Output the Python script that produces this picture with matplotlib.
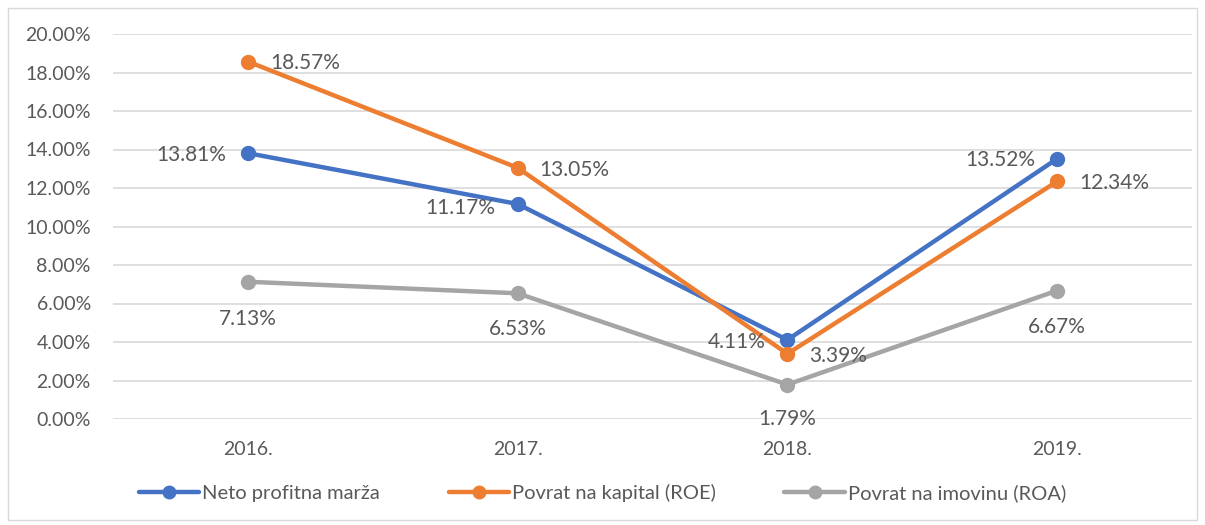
import matplotlib
matplotlib.use("Agg")
import matplotlib.pyplot as plt
from matplotlib.patches import Rectangle

years = ["2016.", "2017.", "2018.", "2019."]
neto = [13.81, 11.17, 4.11, 13.52]
roe = [18.57, 13.05, 3.39, 12.34]
roa = [7.13, 6.53, 1.79, 6.67]
series_names = ["Neto profitna marža", "Povrat na kapital (ROE)", "Povrat na imovinu (ROA)"]
yticks = [0, 2, 4, 6, 8, 10, 12, 14, 16, 18, 20]

plt.rcParams['font.family'] = ['Lato', 'DejaVu Sans']
txt = '#595959'
colors = ['#4472C4', '#ED7D31', '#A5A5A5']

fig = plt.figure(figsize=(12.05, 5.25), dpi=100)
W, H = 1205, 525
ax = fig.add_axes([113 / W, 1 - 419 / H, (1192 - 113) / W, (419 - 34) / H])

x = list(range(len(years)))
data = [neto, roe, roa]
for vals, c, name in zip(data, colors, series_names):
    ax.plot(x, vals, color=c, lw=3.2, marker='o', ms=10, label=name, solid_capstyle='round', zorder=3)

# label offsets in pixels (dx, dy, ha, va)
offs = [
    [(-22, -2, 'right', 'center'), (-22, -4, 'right', 'center'), (-22, -2, 'right', 'center'), (-22, -1, 'right', 'center')],
    [(22, -1, 'left', 'center'), (22, -2, 'left', 'center'), (22, -2, 'left', 'center'), (22, -2, 'left', 'center')],
    [(0, -37, 'center', 'center'), (0, -36, 'center', 'center'), (0, -34, 'center', 'center'), (0, -36, 'center', 'center')],
]
for vals, so in zip(data, offs):
    for i, v in enumerate(vals):
        dx, dy, ha, va = so[i]
        ax.annotate(f"{v:.2f}%", (i, v), xytext=(dx, dy), textcoords='offset pixels',
                    ha=ha, va=va, fontsize=15, color=txt, zorder=4)

ax.set_xlim(-0.5, 3.5)
ax.set_ylim(0, 20)
ax.set_yticks(yticks)
ax.set_yticklabels([f"{t:.2f}%" for t in yticks])
ax.set_xticks(x)
ax.set_xticklabels(years)
ax.tick_params(axis='both', length=0, colors=txt, labelsize=14)
ax.tick_params(axis='y', pad=16)
ax.tick_params(axis='x', pad=16)
ax.grid(axis='y', color='#D9D9D9', lw=1.2)
ax.set_axisbelow(True)
for s in ax.spines.values():
    s.set_visible(False)

leg = fig.legend(loc='center', bbox_to_anchor=(0.5, 1 - 493 / H), ncol=3, frameon=False,
                 fontsize=14.5, labelcolor=txt, handlelength=3.0, handletextpad=0.15, columnspacing=3.4,
                 markerscale=0.9)

fig.patches.append(Rectangle((8 / W, 1 - 520 / H), (1197 - 8) / W, (520 - 8) / H,
                             transform=fig.transFigure, fill=False, edgecolor='#D9D9D9', lw=1))

fig.savefig('out.png', dpi=100)
